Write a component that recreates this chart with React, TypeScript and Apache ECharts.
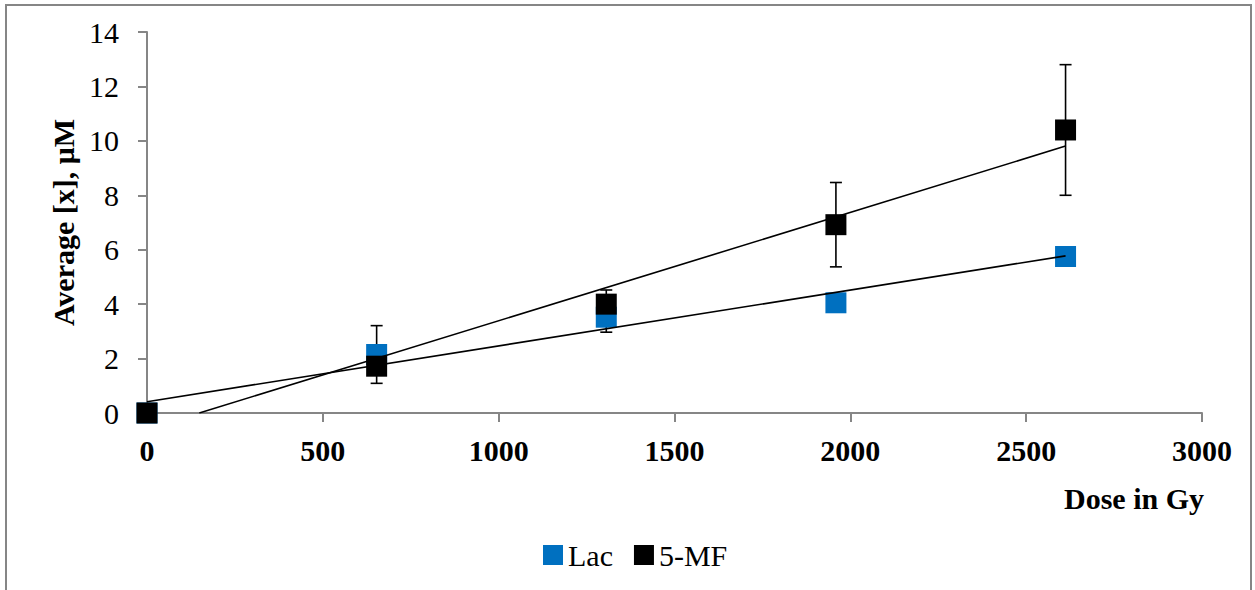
import React, { useEffect, useRef } from "react";
import * as echarts from "echarts";

const doses = [0, 653, 1306, 1959, 2612];
const lacValues = [0, 2.15, 3.52, 4.05, 5.75];
const mfValues = [0, 1.72, 4.0, 6.92, 10.4];
const lacErrors = [0, 1.06, 0.55, 0, 0];
const mfErrors = [0, 0.3, 0.52, 1.55, 2.4];
const seriesNames = ["Lac", "5-MF"];
const seriesColors = ["#0070C0", "#000000"];
const xAxisTitle = "Dose in Gy";
const yAxisTitle = "Average [x], \u03bcM";

const FONT = "'Liberation Serif', 'Times New Roman', serif";
const AXIS_GRAY = "#868686";

function linearFit(xs: number[], ys: number[]) {
  const n = xs.length;
  const mx = xs.reduce((a, b) => a + b, 0) / n;
  const my = ys.reduce((a, b) => a + b, 0) / n;
  let sxy = 0;
  let sxx = 0;
  for (let i = 0; i < n; i++) {
    sxy += (xs[i] - mx) * (ys[i] - my);
    sxx += (xs[i] - mx) * (xs[i] - mx);
  }
  const slope = sxy / sxx;
  return { slope, intercept: my - slope * mx };
}

function trendPoints(xs: number[], ys: number[]) {
  const { slope, intercept } = linearFit(xs, ys);
  const xMax = Math.max(...xs);
  let x0 = 0;
  if (intercept < 0) x0 = -intercept / slope;
  return [
    [x0, intercept + slope * x0],
    [xMax, intercept + slope * xMax],
  ];
}

function errorSeries(values: number[], errors: number[]) {
  return {
    type: "custom",
    z: 1,
    silent: true,
    clip: false,
    data: doses.map((d, i) => [d, values[i], errors[i]]),
    renderItem: (params: any, api: any) => {
      const x = api.value(0);
      const y = api.value(1);
      const e = api.value(2);
      if (!e) return { type: "group", children: [] };
      const top = api.coord([x, y + e]);
      const bot = api.coord([x, y - e]);
      const hw = 6;
      const style = { stroke: "#000", lineWidth: 1.6 };
      return {
        type: "group",
        children: [
          { type: "line", shape: { x1: top[0], y1: top[1], x2: bot[0], y2: bot[1] }, style },
          { type: "line", shape: { x1: top[0] - hw, y1: top[1], x2: top[0] + hw, y2: top[1] }, style },
          { type: "line", shape: { x1: bot[0] - hw, y1: bot[1], x2: bot[0] + hw, y2: bot[1] }, style },
        ],
      };
    },
  };
}

export default function App() {
  const ref = useRef<HTMLDivElement>(null);

  useEffect(() => {
    if (!ref.current) return;
    const chart = echarts.init(ref.current, null, { renderer: "svg" });
    const option: any = {
      animation: false,
      backgroundColor: "#ffffff",
      textStyle: { fontFamily: FONT, color: "#000" },
      grid: { left: 147, right: 53, top: 32, bottom: 177 },
      graphic: [
        {
          type: "rect",
          shape: { x: 6, y: 5, width: 1245, height: 620 },
          style: { fill: "none", stroke: AXIS_GRAY, lineWidth: 2 },
          silent: true,
          z: -10,
        },
      ],
      legend: {
        data: seriesNames.map((n) => ({ name: n, icon: "rect" })),
        left: 538,
        top: 535,
        itemWidth: 20,
        itemHeight: 20,
        itemGap: 21,
        textStyle: { fontFamily: FONT, fontSize: 30, color: "#000" },
      },
      xAxis: {
        type: "value",
        min: 0,
        max: 3000,
        interval: 500,
        name: xAxisTitle,
        nameLocation: "end",
        nameGap: 2,
        nameTextStyle: {
          fontFamily: FONT,
          fontSize: 30,
          fontWeight: "bold",
          color: "#000",
          align: "right",
          verticalAlign: "top",
          padding: [70, 0, 0, 0],
        },
        axisLine: { show: true, lineStyle: { color: AXIS_GRAY, width: 2 } },
        axisTick: { show: true, length: 9, lineStyle: { color: AXIS_GRAY, width: 2 } },
        axisLabel: {
          fontFamily: FONT,
          fontSize: 30,
          fontWeight: "bold",
          color: "#000",
          margin: 22,
          formatter: (v: number) => String(v),
        },
        splitLine: { show: false },
      },
      yAxis: {
        type: "value",
        min: 0,
        max: 14,
        interval: 2,
        name: yAxisTitle,
        nameLocation: "middle",
        nameGap: 54,
        nameRotate: 90,
        nameTextStyle: {
          fontFamily: FONT,
          fontSize: 30,
          fontWeight: "bold",
          color: "#000",
        },
        axisLine: { show: true, lineStyle: { color: AXIS_GRAY, width: 2 } },
        axisTick: { show: true, length: 9, lineStyle: { color: AXIS_GRAY, width: 2 } },
        axisLabel: {
          fontFamily: FONT,
          fontSize: 30,
          color: "#000",
          margin: 28,
        },
        splitLine: { show: false },
      },
      series: [
        errorSeries(lacValues, lacErrors),
        errorSeries(mfValues, mfErrors),
        {
          name: seriesNames[0],
          type: "scatter",
          z: 2,
          symbol: "rect",
          symbolSize: 21,
          itemStyle: { color: seriesColors[0], opacity: 1 },
          data: doses.map((d, i) => [d, lacValues[i]]),
        },
        {
          name: seriesNames[1],
          type: "scatter",
          z: 3,
          symbol: "rect",
          symbolSize: 21,
          itemStyle: { color: seriesColors[1], opacity: 1 },
          data: doses.map((d, i) => [d, mfValues[i]]),
        },
        {
          name: "Lac trend",
          type: "line",
          z: 4,
          symbol: "none",
          silent: true,
          lineStyle: { color: "#000", width: 1.6 },
          data: trendPoints(doses, lacValues),
        },
        {
          name: "5-MF trend",
          type: "line",
          z: 4,
          symbol: "none",
          silent: true,
          lineStyle: { color: "#000", width: 1.6 },
          data: trendPoints(doses, mfValues),
        },
      ],
    };
    chart.setOption(option);
    return () => chart.dispose();
  }, []);

  return (
    <div
      ref={ref}
      style={{ position: "absolute", left: 0, top: 0, width: 1255, height: 590 }}
    />
  );
}
